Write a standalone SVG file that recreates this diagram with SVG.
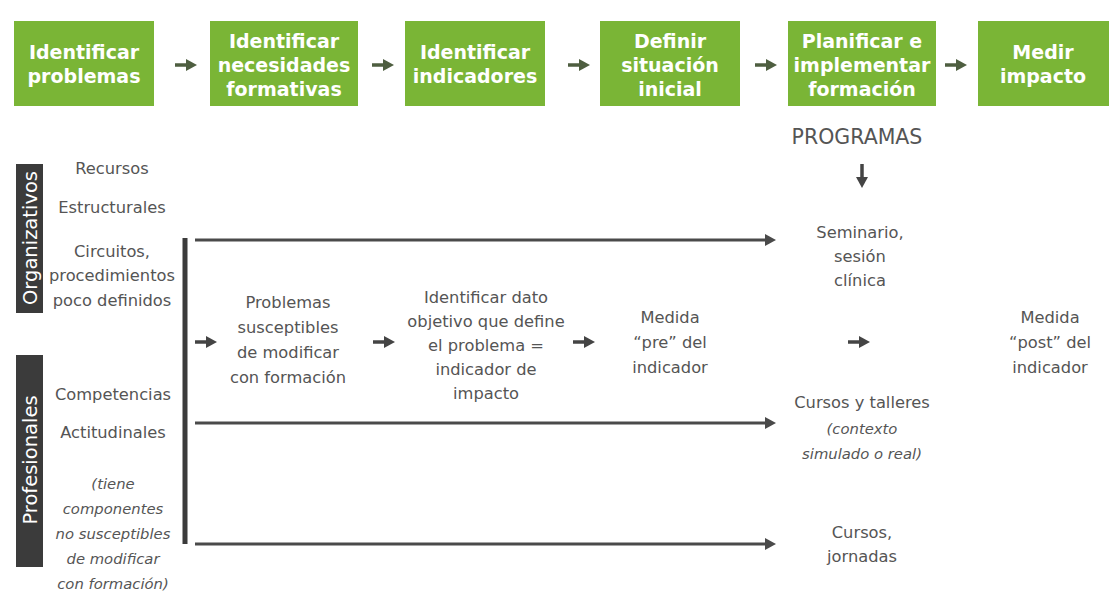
<svg xmlns="http://www.w3.org/2000/svg" width="1118" height="593" viewBox="0 0 1118 593">
<defs>
<style>
.box{fill:#7ab536;}
.bt{font-family:"DejaVu Sans",Verdana,sans-serif;font-weight:bold;font-size:19px;fill:#ffffff;text-anchor:middle;}
.t{font-family:"DejaVu Sans",Verdana,sans-serif;font-size:16.3px;fill:#555555;text-anchor:middle;}
.ti{font-family:"DejaVu Sans",Verdana,sans-serif;font-size:14.8px;font-style:italic;fill:#555555;text-anchor:middle;}
.bar{fill:#3b3b3b;}
.vt{font-family:"DejaVu Sans",Verdana,sans-serif;font-size:19.5px;fill:#ffffff;text-anchor:middle;}
.ga{stroke:#4e5e40;stroke-width:3.5;fill:none;}
.da{stroke:#444444;stroke-width:3.5;fill:none;}
.ln{stroke:#4a4a4a;stroke-width:3;fill:none;}
</style>
<marker id="hg" markerWidth="11" markerHeight="12" refX="5" refY="6" orient="auto" markerUnits="userSpaceOnUse"><path d="M0,0 L11,6 L0,12 Z" fill="#4e5e40"/></marker>
<marker id="hd" markerWidth="11" markerHeight="12" refX="5" refY="6" orient="auto" markerUnits="userSpaceOnUse"><path d="M0,0 L11,6 L0,12 Z" fill="#444444"/></marker>
<marker id="hl" markerWidth="11" markerHeight="12" refX="5" refY="6" orient="auto" markerUnits="userSpaceOnUse"><path d="M0,0 L11,6 L0,12 Z" fill="#4a4a4a"/></marker>
</defs>
<rect width="1118" height="593" fill="#ffffff"/>

<g id="n1"><rect class="box" x="14" y="21" width="140" height="85"/><text class="bt" x="84" y="59">Identificar</text><text class="bt" x="84" y="83">problemas</text></g>
<g id="n2"><rect class="box" x="210" y="21" width="148" height="85"/><text class="bt" x="284" y="48">Identificar</text><text class="bt" x="284" y="72">necesidades</text><text class="bt" x="284" y="96">formativas</text></g>
<g id="n3"><rect class="box" x="405" y="21" width="140" height="85"/><text class="bt" x="475" y="59">Identificar</text><text class="bt" x="475" y="83">indicadores</text></g>
<g id="n4"><rect class="box" x="600" y="21" width="140" height="85"/><text class="bt" x="670" y="48">Definir</text><text class="bt" x="670" y="72">situación</text><text class="bt" x="670" y="96">inicial</text></g>
<g id="n5"><rect class="box" x="788" y="21" width="148" height="85"/><text class="bt" x="862" y="48">Planificar e</text><text class="bt" x="862" y="72">implementar</text><text class="bt" x="862" y="96">formación</text></g>
<g id="n6"><rect class="box" x="978" y="21" width="131" height="85"/><text class="bt" x="1043" y="59">Medir</text><text class="bt" x="1043" y="83">impacto</text></g>

<g id="cat-org"><rect class="bar" x="16" y="164" width="27" height="149"/><text class="vt" transform="translate(36.5,238) rotate(-90)" x="0" y="0">Organizativos</text></g>
<g id="cat-prof"><rect class="bar" x="16" y="355" width="27" height="212"/><text class="vt" transform="translate(36.5,460) rotate(-90)" x="0" y="0">Profesionales</text></g>

<g id="org-items"><text class="t" x="112" y="174">Recursos</text><text class="t" x="112" y="213">Estructurales</text><text class="t" x="112" y="257">Circuitos,</text><text class="t" x="112" y="281">procedimientos</text><text class="t" x="112" y="306">poco definidos</text></g>
<g id="prof-items"><text class="t" x="113" y="400">Competencias</text><text class="t" x="113" y="438">Actitudinales</text><text class="ti" x="113" y="489">(tiene</text><text class="ti" x="113" y="514">componentes</text><text class="ti" x="113" y="539">no susceptibles</text><text class="ti" x="113" y="564">de modificar</text><text class="ti" x="113" y="589">con formación)</text></g>

<g id="problemas"><text class="t" x="288" y="308">Problemas</text><text class="t" x="288" y="333">susceptibles</text><text class="t" x="288" y="358">de modificar</text><text class="t" x="288" y="383">con formación</text></g>
<g id="dato"><text class="t" x="486" y="303">Identificar dato</text><text class="t" x="486" y="327">objetivo que define</text><text class="t" x="486" y="351">el problema =</text><text class="t" x="486" y="375">indicador de</text><text class="t" x="486" y="399">impacto</text></g>
<g id="pre"><text class="t" x="670" y="323">Medida</text><text class="t" x="670" y="348">“pre” del</text><text class="t" x="670" y="373">indicador</text></g>
<g id="programas"><text class="t" x="857" y="144" style="font-size:20.5px">PROGRAMAS</text></g>
<g id="seminario"><text class="t" x="860" y="238">Seminario,</text><text class="t" x="860" y="262">sesión</text><text class="t" x="860" y="286">clínica</text></g>
<g id="post"><text class="t" x="1050" y="323">Medida</text><text class="t" x="1050" y="348">“post” del</text><text class="t" x="1050" y="373">indicador</text></g>
<g id="cursos-talleres"><text class="t" x="862" y="408">Cursos y talleres</text><text class="ti" x="862" y="434">(contexto</text><text class="ti" x="862" y="459">simulado o real)</text></g>
<g id="cursos-jornadas"><text class="t" x="862" y="538">Cursos,</text><text class="t" x="862" y="562">jornadas</text></g>

<g id="connectors">
<line class="ga" x1="175" y1="65" x2="191" y2="65" marker-end="url(#hg)"/>
<line class="ga" x1="372" y1="65" x2="388" y2="65" marker-end="url(#hg)"/>
<line class="ga" x1="568" y1="65" x2="584" y2="65" marker-end="url(#hg)"/>
<line class="ga" x1="755" y1="65" x2="771" y2="65" marker-end="url(#hg)"/>
<line class="ga" x1="945" y1="65" x2="961" y2="65" marker-end="url(#hg)"/>
<line class="da" x1="862" y1="164" x2="862" y2="182" marker-end="url(#hd)"/>
<line x1="185" y1="238" x2="185" y2="544" stroke="#3b3b3b" stroke-width="5"/>
<line class="ln" x1="195" y1="240" x2="770" y2="240" marker-end="url(#hl)"/>
<line class="ln" x1="195" y1="423" x2="770" y2="423" marker-end="url(#hl)"/>
<line class="ln" x1="195" y1="544" x2="770" y2="544" marker-end="url(#hl)"/>
<line class="da" x1="195" y1="342" x2="211" y2="342" marker-end="url(#hd)"/>
<line class="da" x1="373" y1="342" x2="389" y2="342" marker-end="url(#hd)"/>
<line class="da" x1="573" y1="342" x2="589" y2="342" marker-end="url(#hd)"/>
<line class="da" x1="848" y1="342" x2="864" y2="342" marker-end="url(#hd)"/>
</g>
</svg>
